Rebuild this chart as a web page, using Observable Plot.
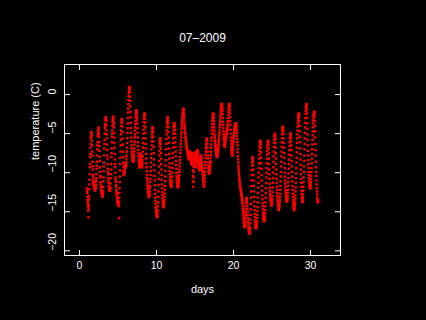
<!DOCTYPE html>
<html>
<head>
<meta charset="utf-8">
<script src="https://cdn.jsdelivr.net/npm/d3@7"></script>
<script src="https://cdn.jsdelivr.net/npm/@observablehq/plot@0.6"></script>
<style>
  html, body { margin: 0; padding: 0; background: #000; }
</style>
</head>
<body>
<div id="chart"></div>
<script>
const title = "07–2009";
const xLabel = "days";
const yLabel = "temperature (C)";
const xTicks = [0, 10, 20, 30];
const yTicks = [0, -5, -10, -15, -20];
const startDay = 0.95;      // first reading (day of month)
const stepDays = 1 / 48;    // half-hourly readings

// half-hourly temperature readings (°C), one row per day
const temperature = [
  -12.0,-12.3,-12.4,-12.6,-13.1,-13.5,-13.8,-14.0,-14.4,-14.9,-15.7,-14.6,-14.2,-13.4,-13.0,-12.1,-11.5,-10.9,-10.2,-9.3,-8.9,-8.0,-7.6,-6.8,-6.3,-5.6,-5.4,-5.0,-4.8,-5.1,-5.3,-5.9,-6.5,-7.3,-7.8,-8.6,-9.2,-9.6,-10.3,-10.5,-10.9,-11.2,-11.3,-11.5,-11.6,-11.8,-11.9,-12.0,
  -12.0,-11.9,-12.1,-12.3,-12.2,-12.0,-12.0,-11.9,-11.6,-11.2,-11.0,-10.7,-10.2,-9.5,-9.1,-8.6,-7.8,-7.0,-6.5,-6.1,-5.3,-5.0,-4.6,-4.9,-4.2,-4.3,-4.5,-5.0,-5.4,-6.1,-6.6,-7.2,-8.0,-8.5,-9.3,-9.9,-10.4,-10.6,-11.2,-11.5,-11.8,-11.9,-12.2,-12.3,-12.5,-12.6,-12.7,-12.8,
  -12.9,-13.1,-13.0,-12.8,-12.6,-12.3,-11.8,-11.1,-10.6,-9.8,-9.2,-8.7,-7.8,-6.9,-6.3,-5.8,-5.0,-4.3,-4.0,-3.8,-3.3,-3.0,-2.9,-3.1,-3.2,-3.4,-3.9,-4.6,-5.1,-5.6,-6.4,-7.1,-7.8,-8.2,-8.9,-9.5,-9.9,-10.2,-10.7,-11.0,-11.3,-11.7,-11.8,-11.9,-12.0,-12.1,-12.2,-12.3,
  -12.2,-12.3,-12.1,-11.9,-11.4,-10.7,-10.2,-9.6,-8.9,-8.0,-7.5,-6.9,-6.1,-5.4,-5.0,-4.6,-4.0,-3.5,-3.3,-3.1,-2.9,-2.8,-3.1,-3.5,-3.8,-4.2,-4.9,-5.5,-6.2,-6.8,-7.6,-8.3,-8.9,-9.3,-10.0,-10.6,-10.9,-11.2,-11.6,-11.8,-12.2,-12.5,-12.7,-12.9,-13.2,-13.3,-13.6,-13.7,
  -13.8,-14.1,-14.0,-13.7,-13.6,-13.9,-14.0,-14.3,-15.8,-13.8,-13.2,-12.6,-12.0,-11.2,-10.5,-9.7,-8.9,-8.1,-7.3,-6.5,-5.8,-5.1,-4.6,-4.0,-3.6,-3.3,-3.1,-3.2,-3.5,-4.1,-4.8,-5.6,-6.4,-7.3,-8.0,-8.7,-9.2,-9.8,-10.1,-10.2,-10.3,-10.1,-10.0,-9.8,-9.6,-9.4,-9.2,-9.1,
  -9.0,-9.2,-9.3,-9.2,-9.1,-8.9,-8.6,-8.2,-7.8,-7.3,-6.8,-6.2,-5.6,-4.9,-4.3,-3.7,-3.0,-2.3,-1.8,-1.2,-0.7,-0.2,0.2,0.5,0.8,0.9,1.0,0.7,0.3,-0.3,-0.8,-1.5,-2.2,-2.9,-3.6,-4.3,-4.9,-5.5,-6.0,-6.5,-6.9,-7.3,-7.6,-7.8,-8.1,-8.3,-8.4,-8.5,
  -8.5,-8.6,-8.6,-8.5,-8.3,-8.0,-7.7,-7.3,-6.9,-6.4,-6.0,-5.5,-5.1,-4.6,-4.2,-3.8,-3.4,-3.0,-2.7,-2.4,-2.2,-2.1,-2.0,-2.1,-2.4,-2.8,-3.2,-3.7,-4.3,-4.9,-5.5,-6.1,-6.6,-7.1,-7.5,-7.9,-8.3,-8.6,-8.9,-9.1,-9.3,-9.3,-9.1,-8.8,-8.6,-8.3,-8.0,-7.8,
  -7.6,-7.7,-7.9,-8.2,-8.4,-8.7,-8.9,-9.1,-9.3,-9.1,-8.8,-8.4,-7.9,-7.3,-6.8,-6.2,-5.6,-5.0,-4.5,-4.0,-3.5,-3.1,-2.8,-2.6,-2.4,-2.5,-2.7,-3.1,-3.6,-4.2,-4.9,-5.6,-6.3,-6.9,-7.6,-8.2,-8.8,-9.3,-9.8,-10.3,-10.7,-11.0,-11.4,-11.7,-12.0,-12.2,-12.5,-12.6,
  -12.8,-12.9,-13.0,-13.1,-13.1,-13.0,-12.9,-12.7,-12.4,-12.0,-11.7,-11.2,-10.8,-10.3,-9.8,-9.3,-8.7,-8.1,-7.6,-7.0,-6.5,-6.0,-5.5,-5.1,-4.8,-4.5,-4.3,-4.2,-4.2,-4.4,-4.8,-5.4,-6.0,-6.7,-7.5,-8.3,-9.0,-9.7,-10.4,-11.0,-11.6,-12.2,-12.7,-13.2,-13.6,-14.0,-14.4,-14.6,
  -14.9,-15.0,-15.2,-15.4,-15.5,-15.6,-15.7,-15.6,-15.4,-15.1,-14.8,-14.3,-13.8,-13.1,-12.4,-11.6,-10.8,-10.0,-9.2,-8.5,-7.8,-7.2,-6.6,-6.2,-5.9,-5.7,-5.6,-5.9,-6.3,-6.9,-7.5,-8.2,-8.9,-9.6,-10.3,-10.9,-11.5,-12.0,-12.5,-12.9,-13.3,-13.6,-13.9,-14.1,-14.3,-14.4,-14.4,-14.3,
  -14.2,-14.0,-13.8,-13.5,-13.1,-12.7,-12.2,-11.7,-11.1,-10.5,-9.8,-9.1,-8.4,-7.7,-7.0,-6.3,-5.7,-5.1,-4.6,-4.1,-3.7,-3.4,-3.1,-3.0,-2.9,-3.0,-3.3,-3.7,-4.2,-4.8,-5.5,-6.2,-6.9,-7.6,-8.2,-8.8,-9.3,-9.8,-10.2,-10.6,-10.9,-11.2,-11.4,-11.6,-11.7,-11.8,-11.8,-11.7,
  -11.6,-11.3,-11.0,-10.5,-10.0,-9.4,-8.8,-8.1,-7.5,-6.8,-6.2,-5.6,-5.0,-4.6,-4.2,-4.0,-3.8,-3.7,-3.7,-3.9,-4.1,-4.5,-5.0,-5.5,-6.1,-6.7,-7.3,-7.9,-8.5,-9.0,-9.5,-10.0,-10.4,-10.7,-11.0,-11.3,-11.5,-11.7,-11.8,-11.9,-11.8,-11.7,-11.6,-11.5,-11.3,-11.1,-10.9,-10.6,
  -10.3,-9.9,-9.6,-9.2,-8.8,-8.4,-8.0,-7.5,-7.1,-6.7,-6.3,-5.9,-5.5,-5.1,-4.8,-4.4,-4.1,-3.8,-3.5,-3.2,-2.9,-2.6,-2.4,-2.2,-2.0,-1.9,-1.8,-1.9,-2.0,-2.3,-2.6,-2.9,-3.3,-3.7,-4.0,-4.3,-4.6,-4.9,-5.1,-5.4,-5.6,-5.8,-6.0,-6.2,-6.4,-6.6,-6.7,-6.8,
  -6.9,-7.0,-7.1,-7.3,-7.4,-7.5,-7.6,-7.8,-7.9,-8.0,-8.1,-8.2,-8.3,-8.2,-8.0,-7.8,-7.6,-7.4,-7.3,-7.3,-7.4,-7.6,-7.8,-8.0,-8.3,-8.6,-8.9,-8.7,-8.5,-8.2,-7.9,-7.7,-7.5,-7.8,-8.2,-8.6,-9.1,-9.7,-10.4,-11.1,-11.8,-11.2,-10.6,-9.9,-9.3,-8.8,-8.4,-8.1,
  -7.8,-7.6,-7.4,-7.6,-7.9,-8.2,-8.6,-9.0,-9.3,-9.2,-9.0,-8.7,-8.4,-8.1,-7.8,-7.5,-7.3,-7.2,-7.1,-7.2,-7.3,-7.5,-7.8,-8.1,-8.4,-8.7,-9.0,-9.3,-9.5,-9.6,-9.7,-9.6,-9.4,-9.1,-8.9,-8.6,-8.4,-8.2,-8.0,-7.9,-7.8,-7.9,-8.1,-8.3,-8.6,-8.9,-9.2,-9.4,
  -9.6,-9.8,-10.0,-10.3,-10.5,-10.8,-11.0,-11.2,-11.5,-11.7,-11.8,-11.6,-11.4,-11.1,-10.7,-10.3,-9.9,-9.4,-9.0,-8.6,-8.1,-7.7,-7.3,-6.9,-6.6,-6.3,-6.0,-5.8,-5.6,-5.7,-5.9,-6.3,-6.8,-7.3,-7.8,-8.2,-8.7,-9.1,-9.4,-9.7,-9.9,-10.0,-10.1,-10.1,-10.0,-9.9,-9.7,-9.5,
  -9.3,-9.1,-8.8,-8.5,-8.1,-7.7,-7.3,-6.8,-6.4,-5.9,-5.5,-5.0,-4.6,-4.2,-3.8,-3.4,-3.1,-2.8,-2.6,-2.5,-2.4,-2.5,-2.7,-3.0,-3.4,-3.8,-4.2,-4.6,-5.0,-5.3,-5.6,-5.9,-6.1,-6.4,-6.6,-6.8,-7.0,-7.2,-7.4,-7.6,-7.7,-7.8,-7.9,-8.0,-8.0,-7.9,-7.8,-7.6,
  -7.5,-7.3,-7.2,-7.0,-6.8,-6.5,-6.3,-6.0,-5.8,-5.5,-5.2,-4.9,-4.6,-4.2,-3.9,-3.6,-3.3,-2.9,-2.6,-2.3,-2.0,-1.8,-1.6,-1.4,-1.3,-1.2,-1.2,-1.3,-1.5,-1.8,-2.1,-2.5,-3.0,-3.5,-3.9,-4.3,-4.7,-5.1,-5.4,-5.7,-6.0,-6.3,-6.5,-6.6,-6.7,-6.6,-6.4,-6.2,
  -6.0,-5.8,-5.6,-5.5,-5.3,-5.1,-5.0,-4.9,-4.8,-4.7,-4.6,-4.5,-4.4,-4.2,-4.0,-3.7,-3.4,-3.0,-2.6,-2.2,-1.8,-1.5,-1.3,-1.2,-1.2,-1.4,-1.6,-2.0,-2.4,-2.9,-3.4,-3.9,-4.5,-5.0,-5.5,-5.9,-6.3,-6.7,-7.0,-7.3,-7.5,-7.7,-7.8,-7.7,-7.6,-7.3,-7.0,-6.7,
  -6.4,-6.1,-5.9,-5.6,-5.4,-5.2,-5.0,-4.8,-4.6,-4.4,-4.3,-4.1,-4.0,-3.9,-3.8,-3.7,-3.7,-3.7,-3.8,-3.9,-4.1,-4.3,-4.6,-4.9,-5.3,-5.7,-6.1,-6.5,-7.0,-7.4,-7.9,-8.3,-8.7,-9.1,-9.4,-9.7,-10.0,-10.3,-10.6,-10.8,-11.0,-11.2,-11.4,-11.6,-11.7,-11.9,-12.0,-12.1,
  -12.2,-12.4,-12.5,-12.7,-12.8,-12.9,-13.1,-13.3,-13.4,-13.6,-13.8,-14.0,-14.3,-14.6,-14.9,-15.2,-15.5,-15.8,-16.0,-16.3,-16.5,-16.7,-16.8,-16.9,-17.0,-16.8,-16.6,-16.3,-15.9,-15.5,-15.1,-14.7,-14.3,-13.9,-13.6,-13.4,-13.2,-13.3,-13.5,-13.8,-14.2,-14.6,-15.0,-15.4,-15.8,-16.2,-16.5,-16.8,
  -17.0,-17.2,-17.4,-17.5,-17.6,-17.7,-17.8,-17.8,-17.6,-17.3,-17.0,-16.5,-16.0,-15.4,-14.7,-14.0,-13.2,-12.4,-11.7,-11.0,-10.3,-9.7,-9.1,-8.7,-8.3,-8.1,-8.0,-8.2,-8.5,-9.0,-9.6,-10.3,-11.0,-11.7,-12.4,-13.1,-13.7,-14.3,-14.8,-15.3,-15.7,-16.1,-16.4,-16.7,-16.9,-17.0,-17.0,-17.1,
  -17.1,-17.0,-16.9,-16.7,-16.5,-16.2,-15.8,-15.4,-14.9,-14.4,-13.8,-13.2,-12.6,-11.9,-11.3,-10.6,-10.0,-9.4,-8.8,-8.2,-7.7,-7.2,-6.8,-6.5,-6.2,-6.0,-5.9,-6.0,-6.3,-6.8,-7.4,-8.1,-8.8,-9.5,-10.3,-11.0,-11.7,-12.3,-12.9,-13.4,-13.9,-14.3,-14.7,-15.1,-15.4,-15.7,-15.9,-16.0,
  -16.1,-16.2,-16.2,-16.1,-16.0,-15.8,-15.6,-15.2,-14.8,-14.3,-13.8,-13.2,-12.6,-12.0,-11.3,-10.6,-10.0,-9.4,-8.8,-8.2,-7.7,-7.2,-6.8,-6.5,-6.2,-6.0,-5.9,-6.1,-6.4,-6.9,-7.5,-8.2,-8.9,-9.6,-10.2,-10.8,-11.4,-11.9,-12.3,-12.7,-13.0,-13.3,-13.5,-13.7,-13.9,-14.0,-14.1,-14.2,
  -14.2,-14.1,-14.0,-13.7,-13.4,-13.0,-12.5,-11.9,-11.3,-10.7,-10.0,-9.3,-8.6,-7.9,-7.3,-6.7,-6.2,-5.8,-5.4,-5.2,-5.0,-5.1,-5.3,-5.7,-6.2,-6.8,-7.5,-8.2,-8.9,-9.6,-10.2,-10.8,-11.3,-11.8,-12.2,-12.6,-13.0,-13.3,-13.6,-13.9,-14.1,-14.3,-14.5,-14.7,-14.8,-14.7,-14.6,-14.5,
  -14.3,-14.1,-13.8,-13.5,-13.1,-12.7,-12.2,-11.7,-11.1,-10.5,-9.9,-9.2,-8.6,-7.9,-7.3,-6.7,-6.1,-5.6,-5.1,-4.7,-4.4,-4.2,-4.1,-4.2,-4.3,-4.6,-5.0,-5.6,-6.2,-6.8,-7.5,-8.1,-8.8,-9.4,-10.0,-10.5,-11.0,-11.4,-11.8,-12.2,-12.5,-12.8,-13.0,-13.2,-13.4,-13.5,-13.6,-13.7,
  -13.7,-13.6,-13.5,-13.3,-13.0,-12.6,-12.2,-11.7,-11.2,-10.7,-10.1,-9.5,-8.9,-8.3,-7.7,-7.1,-6.6,-6.1,-5.7,-5.4,-5.1,-5.0,-5.0,-5.2,-5.5,-6.0,-6.5,-7.1,-7.8,-8.5,-9.2,-9.9,-10.5,-11.1,-11.7,-12.2,-12.7,-13.1,-13.5,-13.8,-14.1,-14.3,-14.5,-14.7,-14.8,-14.7,-14.6,-14.5,
  -14.3,-14.0,-13.7,-13.3,-12.9,-12.4,-11.9,-11.3,-10.7,-10.1,-9.4,-8.7,-8.1,-7.4,-6.8,-6.2,-5.6,-5.1,-4.6,-4.1,-3.7,-3.3,-3.0,-2.8,-2.6,-2.5,-2.4,-2.6,-2.9,-3.4,-4.0,-4.7,-5.4,-6.1,-6.9,-7.6,-8.3,-9.0,-9.6,-10.2,-10.8,-11.3,-11.8,-12.3,-12.7,-13.1,-13.4,-13.6,
  -13.8,-13.7,-13.5,-13.2,-12.8,-12.3,-11.8,-11.2,-10.6,-9.9,-9.2,-8.5,-7.8,-7.0,-6.3,-5.6,-4.9,-4.2,-3.6,-3.0,-2.5,-2.1,-1.7,-1.4,-1.2,-1.3,-1.5,-1.9,-2.4,-3.0,-3.7,-4.4,-5.1,-5.8,-6.5,-7.2,-7.8,-8.4,-8.9,-9.4,-9.9,-10.3,-10.7,-11.0,-11.3,-11.6,-11.8,-11.9,
  -12.0,-12.0,-11.9,-11.7,-11.5,-11.2,-10.8,-10.4,-9.9,-9.4,-8.8,-8.2,-7.6,-7.0,-6.4,-5.8,-5.2,-4.7,-4.2,-3.7,-3.3,-3.0,-2.7,-2.5,-2.3,-2.2,-2.2,-2.4,-2.8,-3.4,-4.0,-4.7,-5.5,-6.3,-7.1,-7.8,-8.6,-9.3,-9.9,-10.4,-11.0,-11.5,-12.0,-12.4,-12.8,-13.2,-13.5,-13.7,
  -13.8,-13.7,-13.6
];

const data = temperature.map((t, i) => ({day: startDay + i * stepDays, temp: t}));
const fmt = d => (d < 0 ? "\u2212" + Math.abs(d) : String(d));

const chart = Plot.plot({
  width: 426,
  height: 320,
  marginLeft: 64,
  marginRight: 86,
  marginTop: 64,
  marginBottom: 65,
  style: {background: "#000", color: "#fff", fontFamily: "'Liberation Sans', Arial, sans-serif", fontSize: "10.5px"},
  x: {domain: [-1.95, 33.9]},
  y: {domain: [-20.6, 3.85]},
  marks: [
    Plot.dot(data, {x: "day", y: "temp", symbol: "square", r: 1.35, fill: "#ff0000", stroke: "none"}),
    Plot.frame({stroke: "#fff", strokeWidth: 1}),
    Plot.axisX(xTicks, {anchor: "bottom", tickSize: -5, tickFormat: () => "", label: null, stroke: "#fff"}),
    Plot.axisX(xTicks, {anchor: "top", tickSize: -5, tickFormat: () => "", label: null, stroke: "#fff"}),
    Plot.axisY(yTicks, {anchor: "left", tickSize: -6, tickFormat: () => "", label: null, stroke: "#fff"}),
    Plot.axisY(yTicks, {anchor: "right", tickSize: -6, tickFormat: () => "", label: null, stroke: "#fff"}),
    Plot.text(xTicks, {x: d => d, frameAnchor: "bottom", dy: 13, text: fmt, fill: "#fff"}),
    Plot.text(yTicks, {y: d => d, frameAnchor: "left", dx: -12, rotate: -90, text: fmt, fill: "#fff"}),
    Plot.text([title], {frameAnchor: "top", dy: -31, text: d => d, fill: "#fff", fontSize: 12}),
    Plot.text([xLabel], {frameAnchor: "bottom", dy: 37, text: d => d, fill: "#fff", fontSize: 11}),
    Plot.text([yLabel], {frameAnchor: "left", dx: -29, rotate: -90, text: d => d, fill: "#fff", fontSize: 11})
  ]
});
document.getElementById("chart").appendChild(chart);
</script>
</body>
</html>
